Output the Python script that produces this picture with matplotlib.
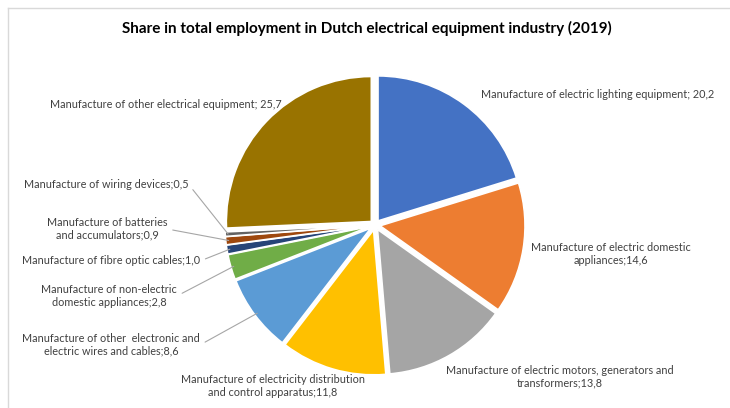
import numpy as np
import matplotlib.pyplot as plt

plt.rcParams['font.family'] = ['Lato', 'DejaVu Sans']

labels = [
    'Manufacture of electric lighting equipment; ',
    'Manufacture of electric domestic\nappliances;',
    'Manufacture of electric motors, generators and\ntransformers;',
    'Manufacture of electricity distribution\nand control apparatus;',
    'Manufacture of other  electronic and\nelectric wires and cables;',
    'Manufacture of non-electric\ndomestic appliances;',
    'Manufacture of fibre optic cables;',
    'Manufacture of batteries\nand accumulators;',
    'Manufacture of wiring devices;',
    'Manufacture of other electrical equipment; ',
]
shares = [20.2, 14.6, 13.8, 11.8, 8.6, 2.8, 1.0, 0.9, 0.5, 25.7]
colors = ['#4472C4', '#ED7D31', '#A5A5A5', '#FFC000', '#5B9BD5',
          '#70AD47', '#264478', '#9E480E', '#636363', '#997300']

# label placement in pixels (x, y from top) and whether a leader line is drawn
label_px = [(598, 94), (611, 254), (560, 377), (273, 386), (111, 345),
            (109, 296), (111, 261), (107, 229), (106, 184), (166, 104)]
leader = [False, False, False, False, True, True, True, True, True, False]

W, H = 730, 408
cx, cy, R = 375, 225, 145

fig = plt.figure(figsize=(W / 100, H / 100), dpi=100)
half = 1.25
ax = fig.add_axes([(cx - half * R) / W, (H - cy - half * R) / H,
                   2 * half * R / W, 2 * half * R / H])
ax.set_xlim(-half, half)
ax.set_ylim(-half, half)
ax.set_aspect('equal')
ax.axis('off')

expl = 0.035
wedges, _ = ax.pie(shares, colors=colors, startangle=90, counterclock=False,
                   explode=[expl] * len(shares),
                   wedgeprops=dict(edgecolor='white', linewidth=1.2))


def to_data(px, py):
    return (px - cx) / R, (cy - py) / R


txt_color = '#404040'
for w, lab, val, (px, py), ld in zip(wedges, labels, shares, label_px, leader):
    s = f'{lab}{val:.1f}'.replace('.', ',')
    tx, ty = to_data(px, py)
    if ld:
        ang = np.deg2rad((w.theta1 + w.theta2) / 2)
        x0 = (w.r * 0.98) * np.cos(ang) + expl * np.cos(ang)
        y0 = (w.r * 0.98) * np.sin(ang) + expl * np.sin(ang)
        ax.annotate(s, xy=(x0, y0), xytext=(tx, ty), ha='center', va='center',
                    fontsize=7.8, color=txt_color, annotation_clip=False,
                    arrowprops=dict(arrowstyle='-', color='#A6A6A6', lw=0.8,
                                    relpos=(1.0, 0.5), shrinkA=2, shrinkB=0))
    else:
        ax.text(tx, ty, s, ha='center', va='center', fontsize=7.8,
                color=txt_color, clip_on=False)

fig.text(367 / W, 1 - 28 / H,
         'Share in total employment in Dutch electrical equipment industry (2019)',
         ha='center', va='center', fontsize=11, fontweight='bold', color='#000000')

# thin frame lines at the top and left edge
fig.add_artist(plt.Line2D([8 / W, 1], [1 - 8 / H] * 2, color='#D9D9D9', lw=1))
fig.add_artist(plt.Line2D([8 / W] * 2, [0, 1 - 8 / H], color='#D9D9D9', lw=1))

fig.savefig('out.png', dpi=100, facecolor='white')
